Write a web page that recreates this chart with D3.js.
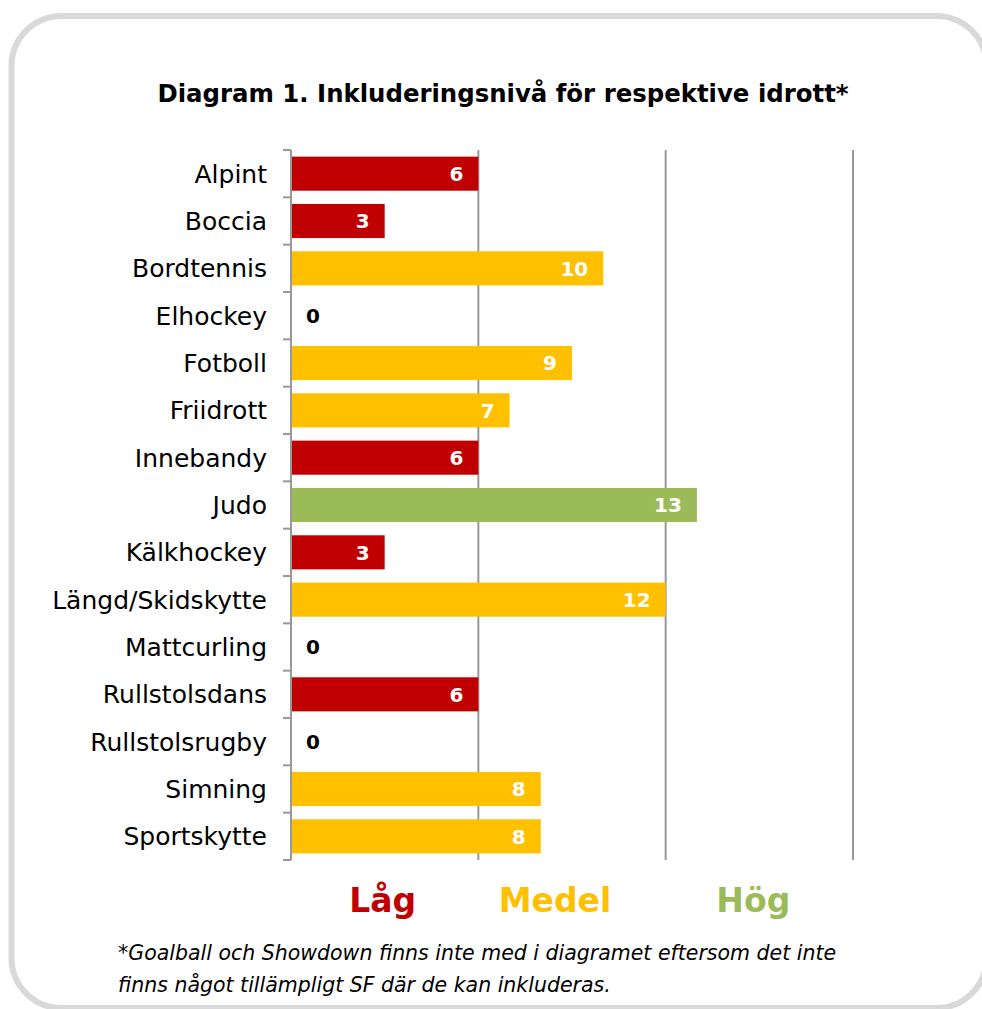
<!DOCTYPE html>
<html>
<head>
<meta charset="utf-8">
<script src="https://cdn.jsdelivr.net/npm/d3@7"></script>
<style>
    body { margin: 0; background: #fff; }
    svg { display: block; }
</style>
</head>
<body>
<div id="chart"></div>
<script>
// data
const sports = ['Alpint', 'Boccia', 'Bordtennis', 'Elhockey', 'Fotboll', 'Friidrott', 'Innebandy',
    'Judo', 'Kälkhockey', 'Längd/Skidskytte', 'Mattcurling', 'Rullstolsdans', 'Rullstolsrugby',
    'Simning', 'Sportskytte'];
const scores = [6, 3, 10, 0, 9, 7, 6, 13, 3, 12, 0, 6, 0, 8, 8];
const levels = ['Låg', 'Medel', 'Hög'];
const levelColors = ['#C00000', '#FFC000', '#9BBB59'];
const levelBreaks = [0, 6, 12, 18];
const levelShift = [-2, -17, -6]; // the text boxes sit a bit left of band centres

const width = 982, height = 1009;
const font = 'DejaVu Sans';

const svg = d3.select('#chart')
    .append('svg')
    .attr('width', width)
    .attr('height', height);

// rounded frame
svg.append('rect')
    .attr('x', 11.5).attr('y', 16)
    .attr('width', 975).attr('height', 992)
    .attr('rx', 50).attr('ry', 50)
    .attr('fill', '#fff')
    .attr('stroke', '#d9d9d9')
    .attr('stroke-width', 6);

svg.append('text')
    .attr('x', 503).attr('y', 102)
    .attr('text-anchor', 'middle')
    .attr('font-family', font)
    .attr('font-weight', 'bold')
    .attr('font-size', 24.4)
    .attr('fill', '#000')
    .text('Diagram 1. Inkluderingsnivå för respektive idrott*');

const x = d3.scaleLinear()
    .domain([0, 18])
    .range([291, 853]);

const y = d3.scaleBand()
    .domain(sports)
    .range([150, 860])
    .paddingInner(0.28)
    .paddingOuter(0.14);

// level from score (which band the value falls in)
function levelOf(v) {
    if (v <= levelBreaks[1]) return 0;
    if (v <= levelBreaks[2]) return 1;
    return 2;
}

// vertical grid lines
svg.append('g')
    .selectAll('line')
    .data(levelBreaks.slice(1))
    .join('line')
    .attr('x1', d => x(d)).attr('x2', d => x(d))
    .attr('y1', 150).attr('y2', 860)
    .attr('stroke', '#999')
    .attr('stroke-width', 2);

// bars
svg.append('g')
    .selectAll('rect')
    .data(scores)
    .join('rect')
    .attr('x', x(0) + 1)
    .attr('y', (d, i) => y(sports[i]))
    .attr('width', d => Math.max(0, x(d) - x(0) - 1))
    .attr('height', y.bandwidth())
    .attr('fill', d => levelColors[levelOf(d)]);

// axis with category labels
const step = (860 - 150) / sports.length;
const axisG = svg.append('g');
axisG.append('line')
    .attr('x1', x(0)).attr('x2', x(0))
    .attr('y1', 150).attr('y2', 860)
    .attr('stroke', '#999').attr('stroke-width', 2);
axisG.selectAll('line.tick')
    .data(d3.range(sports.length + 1))
    .join('line')
    .attr('class', 'tick')
    .attr('x1', x(0) - 8).attr('x2', x(0))
    .attr('y1', d => 150 + d * step).attr('y2', d => 150 + d * step)
    .attr('stroke', '#999').attr('stroke-width', 2);

axisG.selectAll('text')
    .data(sports)
    .join('text')
    .attr('x', 267)
    .attr('y', d => y(d) + y.bandwidth() / 2)
    .attr('dy', '0.36em')
    .attr('text-anchor', 'end')
    .attr('font-family', font)
    .attr('font-size', 25)
    .attr('fill', '#000')
    .text(d => d);

// value labels
svg.append('g')
    .selectAll('text')
    .data(scores)
    .join('text')
    .attr('x', d => d === 0 ? x(0) + 15 : x(d) - 15)
    .attr('y', (d, i) => y(sports[i]) + y.bandwidth() / 2)
    .attr('dy', '0.36em')
    .attr('text-anchor', d => d === 0 ? 'start' : 'end')
    .attr('font-family', font)
    .attr('font-weight', 'bold')
    .attr('font-size', 20)
    .attr('fill', d => d === 0 ? '#000' : '#fff')
    .text(d => d);

// level labels under the bands
svg.append('g')
    .selectAll('text')
    .data(levels)
    .join('text')
    .attr('x', (d, i) => (x(levelBreaks[i]) + x(levelBreaks[i + 1])) / 2 + levelShift[i])
    .attr('y', 912)
    .attr('text-anchor', 'middle')
    .attr('font-family', font)
    .attr('font-weight', 'bold')
    .attr('font-size', 33)
    .attr('fill', (d, i) => levelColors[i])
    .text(d => d);

// footnote
const note = svg.append('text')
    .attr('font-family', font)
    .attr('font-style', 'italic')
    .attr('font-size', 20.5)
    .attr('fill', '#000');
note.append('tspan').attr('x', 118).attr('y', 960)
    .text('*Goalball och Showdown finns inte med i diagramet eftersom det inte');
note.append('tspan').attr('x', 118).attr('y', 992)
    .text('finns något tillämpligt SF där de kan inkluderas.');
</script>
</body>
</html>
